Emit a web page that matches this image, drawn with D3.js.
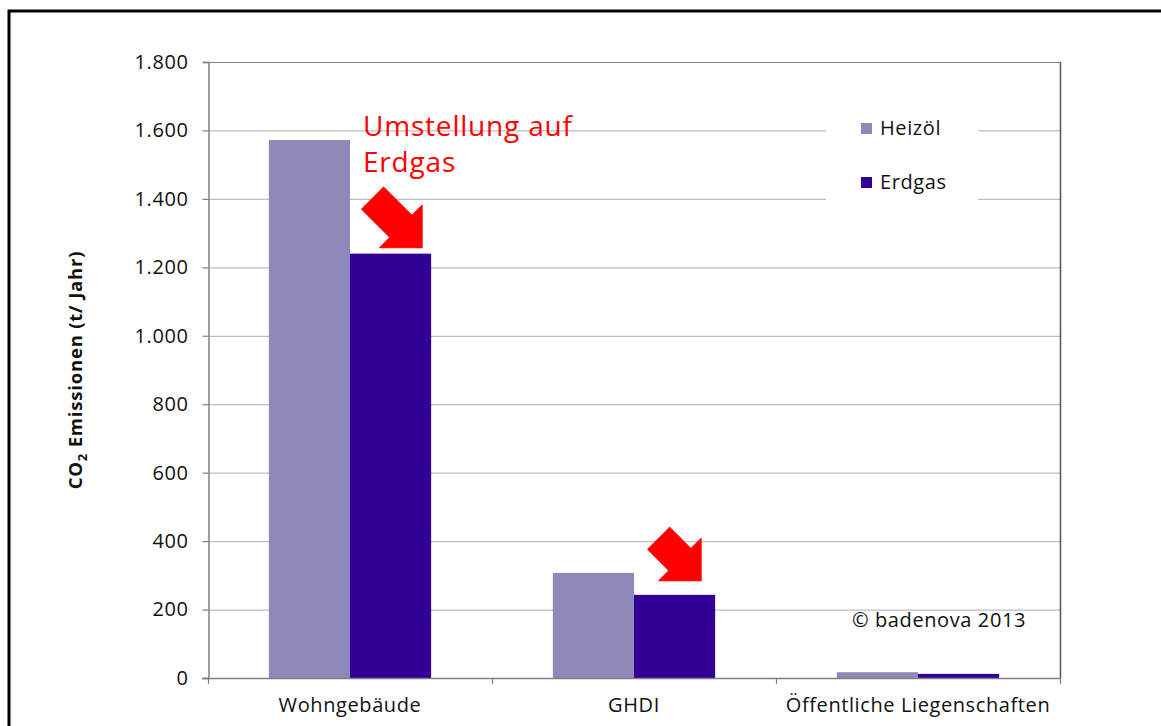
<!DOCTYPE html>
<html>
<head>
<meta charset="utf-8">
<script src="https://cdn.jsdelivr.net/npm/d3@7"></script>
<style>
  html, body { margin: 0; padding: 0; background: #fff; }
  svg { display: block; font-family: "Open Sans", "Noto Sans", sans-serif; }
</style>
</head>
<body>
<svg id="chart" width="1161" height="726"></svg>
<script>
// Categories and series
const categories = ["Wohngebäude", "GHDI", "Öffentliche Liegenschaften"];
const seriesNames = ["Heizöl", "Erdgas"];
const heizoel = [1572, 307, 17];
const erdgas = [1240, 243, 12];
const yTicks = [0, 200, 400, 600, 800, 1000, 1200, 1400, 1600, 1800];
const colors = ["#8F89B9", "#330096"];

const svg = d3.select("#chart");
const W = 1161, H = 726;
const plot = { left: 208, top: 62, right: 1060, bottom: 678 };
const LS = "0.6px";

// Outer frame
svg.append("rect")
  .attr("x", 9).attr("y", 11)
  .attr("width", W + 20).attr("height", H + 20)
  .attr("fill", "none").attr("stroke", "#000").attr("stroke-width", 3);

const de = d3.formatLocale({ decimal: ",", thousands: ".", grouping: [3], currency: ["", " €"] });
const fmt = de.format(",d");

const y = d3.scaleLinear().domain([0, 1800]).range([plot.bottom, plot.top]);
const x = d3.scaleBand().domain(categories).range([plot.left, plot.right]).padding(0);
// Gap width of 75% between bar groups
const groupW = x.bandwidth() / 1.75;
const xs = d3.scaleBand().domain(seriesNames).range([0, groupW]).padding(0);

// Gridlines
svg.append("g")
  .selectAll("line")
  .data(yTicks.filter(d => d > 0))
  .join("line")
  .attr("x1", plot.left).attr("x2", plot.right)
  .attr("y1", d => y(d) + 0.5).attr("y2", d => y(d) + 0.5)
  .attr("stroke", d => d === 1800 ? "#808080" : "#bdbdbd")
  .attr("stroke-width", 1.2);

// Right border of the plot area
svg.append("line")
  .attr("x1", plot.right + 0.5).attr("x2", plot.right + 0.5)
  .attr("y1", plot.top).attr("y2", plot.bottom)
  .attr("stroke", "#555").attr("stroke-width", 1.5);

// Bars
const rows = categories.map((c, i) => ({ cat: c, values: [heizoel[i], erdgas[i]] }));
const groups = svg.append("g").selectAll("g")
  .data(rows).join("g")
  .attr("transform", d => `translate(${x(d.cat) + (x.bandwidth() - groupW) / 2},0)`);
groups.selectAll("rect")
  .data(d => d.values.map((v, j) => ({ name: seriesNames[j], v, j })))
  .join("rect")
  .attr("x", d => xs(d.name))
  .attr("width", xs.bandwidth())
  .attr("y", d => y(d.v))
  .attr("height", d => y(0) - y(d.v))
  .attr("fill", d => colors[d.j]);

// Y axis
const yAxis = svg.append("g")
  .attr("transform", `translate(${plot.left + 0.5},0)`)
  .call(d3.axisLeft(y).tickValues(yTicks).tickFormat(fmt).tickSize(6).tickPadding(14));
yAxis.select(".domain").attr("stroke", "#808080").attr("stroke-width", 1.5);
yAxis.selectAll(".tick line").attr("stroke", "#808080").attr("stroke-width", 1.2);
yAxis.selectAll(".tick text")
  .attr("font-size", 20).attr("fill", "#111").style("letter-spacing", LS)
  .attr("font-family", "'Open Sans', sans-serif");

// X axis
const xAxisG = svg.append("g");
xAxisG.append("line")
  .attr("x1", plot.left - 6).attr("x2", plot.right)
  .attr("y1", plot.bottom + 0.5).attr("y2", plot.bottom + 0.5)
  .attr("stroke", "#808080").attr("stroke-width", 1.5);
const bounds = categories.map(c => x(c)).concat([x(categories[categories.length - 1]) + x.bandwidth()]);
xAxisG.selectAll("line.tk")
  .data(bounds).join("line").attr("class", "tk")
  .attr("x1", d => d + 0.5).attr("x2", d => d + 0.5)
  .attr("y1", plot.bottom).attr("y2", plot.bottom + 6)
  .attr("stroke", "#808080").attr("stroke-width", 1.2);
xAxisG.selectAll("text")
  .data(categories).join("text")
  .attr("x", d => x(d) + x.bandwidth() / 2)
  .attr("y", 712)
  .attr("text-anchor", "middle")
  .attr("font-size", 20).attr("fill", "#111").style("letter-spacing", LS)
  .text(d => d);

// Y axis title
const yt = svg.append("text")
  .attr("transform", "translate(82,370) rotate(-90)")
  .attr("text-anchor", "middle")
  .attr("font-size", 18.5).attr("font-weight", "bold").attr("fill", "#111")
  .style("letter-spacing", "0.8px");
yt.append("tspan").text("CO");
yt.append("tspan").attr("font-size", 13).attr("dy", 5).text("2");
yt.append("tspan").attr("dy", -5).text(" Emissionen (t/ Jahr)");

// Legend
const lg = svg.append("g");
lg.append("rect").attr("x", 826).attr("y", 100).attr("width", 152).attr("height", 110).attr("fill", "#fff");
const li = lg.selectAll("g.item").data(seriesNames).join("g").attr("class", "item")
  .attr("transform", (d, i) => `translate(861,${123 + i * 54})`);
li.append("rect").attr("width", 11).attr("height", 11).attr("fill", (d, i) => colors[i]);
li.append("text").attr("x", 19).attr("y", 12).attr("font-size", 20).attr("fill", "#111")
  .style("letter-spacing", LS).text(d => d);

// Annotation
const ann = svg.append("g").attr("fill", "#ff0000").attr("font-size", 28).style("letter-spacing", "0.8px");
ann.append("text").attr("x", 363).attr("y", 136).text("Umstellung auf");
ann.append("text").attr("x", 363).attr("y", 172).text("Erdgas");

// Arrow pointing to the lower right, tip at (tx, ty)
function arrow(tx, ty, shaft) {
  const hw = 30, headLen = 30, sw = 15.5;
  const pts = [
    [0, 0], [-headLen, -hw], [-headLen, -sw], [-headLen - shaft, -sw],
    [-headLen - shaft, sw], [-headLen, sw], [-headLen, hw]
  ];
  svg.append("path")
    .attr("d", d3.line()(pts) + "Z")
    .attr("transform", `translate(${tx},${ty}) rotate(45)`)
    .attr("fill", "#ff0000")
    .attr("stroke", "#ff0000").attr("stroke-width", 1).attr("stroke-linejoin", "round");
}
const erdgasRight = i => x(categories[i]) + (x.bandwidth() - groupW) / 2 + xs("Erdgas") + xs.bandwidth();
arrow(erdgasRight(0) - 9, y(erdgas[0]) - 6, 40);
arrow(erdgasRight(1) - 14, y(erdgas[1]) - 14, 30);

// Copyright note
svg.append("text").attr("x", 852).attr("y", 627).attr("font-size", 20).attr("fill", "#111")
  .style("letter-spacing", LS).text("© badenova 2013");
</script>
</body>
</html>
